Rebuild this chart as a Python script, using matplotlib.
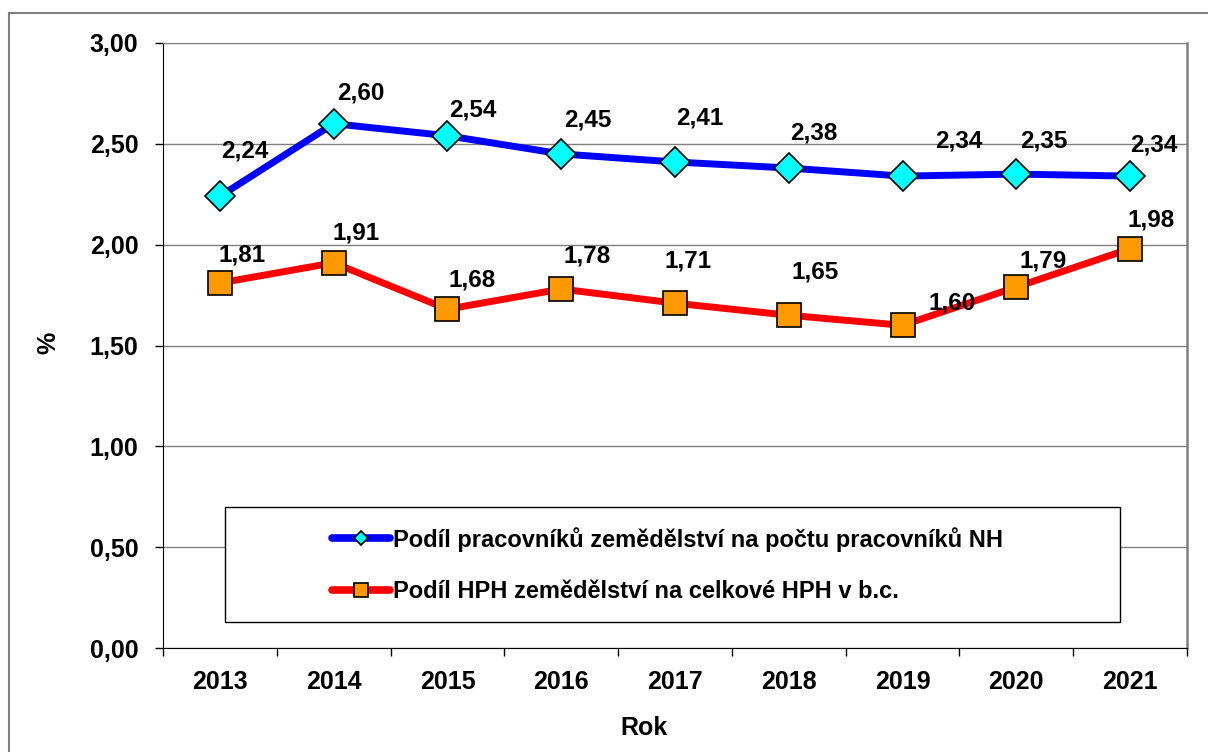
import numpy as np
import matplotlib
matplotlib.use("Agg")
import matplotlib.pyplot as plt
from matplotlib.patches import Rectangle
from matplotlib.lines import Line2D

plt.rcParams['font.family'] = ['Liberation Sans', 'DejaVu Sans']
plt.rcParams['font.weight'] = 'bold'

years = ['2013', '2014', '2015', '2016', '2017', '2018', '2019', '2020', '2021']
workers = [2.24, 2.60, 2.54, 2.45, 2.41, 2.38, 2.34, 2.35, 2.34]
gva = [1.81, 1.91, 1.68, 1.78, 1.71, 1.65, 1.60, 1.79, 1.98]
name_workers = 'Podíl pracovníků zemědělství na počtu pracovníků NH'
name_gva = 'Podíl HPH zemědělství na celkové HPH v b.c.'

# label offsets in pixels (dx, dy up) as placed in the original
off_workers = [(25, 45), (27, 31), (25, 26), (27, 34), (25, 44), (25, 35), (56, 35), (27, 33), (24, 31)]
off_gva = [(22, 28), (22, 30), (25, 29), (26, 33), (13, 42), (26, 43), (50, 22), (27, 26), (21, 29)]

W, H = 1208, 752
fig = plt.figure(figsize=(W / 100, H / 100), dpi=100)
ax = fig.add_axes([163 / W, 1 - 648 / H, 1024 / W, 605 / H])

x = np.arange(len(years))
ax.plot(x, workers, color='#0000FF', lw=5, marker='D', ms=15.5, mfc='#00FFFF',
        mec='black', mew=1.2, zorder=3)
ax.plot(x, gva, color='#FF0000', lw=5, marker='s', ms=17, mfc='#FF9900',
        mec='black', mew=1.2, zorder=3)

for xi, v, (dx, dy) in zip(x, workers, off_workers):
    ax.annotate(f'{v:.2f}'.replace('.', ','), (xi, v), xytext=(dx * 0.72, dy * 0.72),
                textcoords='offset points', ha='center', va='center', fontsize=17.5,
                fontweight='bold', zorder=4)
for xi, v, (dx, dy) in zip(x, gva, off_gva):
    ax.annotate(f'{v:.2f}'.replace('.', ','), (xi, v), xytext=(dx * 0.72, dy * 0.72),
                textcoords='offset points', ha='center', va='center', fontsize=17.5,
                fontweight='bold', zorder=4)

ax.set_xlim(-0.5, len(years) - 0.5)
ax.set_ylim(0, 3)
yt = np.arange(0, 3.01, 0.5)
ax.set_yticks(yt)
ax.set_yticklabels([f'{t:.2f}'.replace('.', ',') for t in yt], fontsize=18, fontweight='bold')
ax.set_xticks(np.arange(-0.5, len(years), 1.0))
ax.set_xticklabels([])
ax.set_xticks(x, minor=True)
ax.set_xticklabels(years, minor=True, fontsize=18, fontweight='bold')
ax.tick_params(axis='y', direction='out', length=5.8, width=1, pad=12)
ax.tick_params(axis='x', which='major', direction='out', length=5.8, width=1)
ax.tick_params(axis='x', which='minor', length=0, pad=16)

ax.grid(axis='y', color='#808080', lw=1)
ax.set_axisbelow(True)
ax.spines['left'].set_color('black')
ax.spines['bottom'].set_color('black')
ax.spines['top'].set_color('#808080')
ax.spines['right'].set_color('#808080')
ax.spines['right'].set_linewidth(1.8)

# legend box
ax.add_patch(Rectangle((62 / 1024, 26 / 605), 895 / 1024, 115 / 605, transform=ax.transAxes,
                       facecolor='white', edgecolor='black', lw=1, zorder=1))
handles = [
    Line2D([], [], color='#0000FF', lw=5.5, solid_capstyle='round', marker='D', ms=7,
           mfc='#00FFFF', mec='black', mew=1.2),
    Line2D([], [], color='#FF0000', lw=5.5, solid_capstyle='round', marker='s', ms=10,
           mfc='#FF9900', mec='black', mew=1.2),
]
ax.legend(handles, [name_workers, name_gva], loc='center left',
          bbox_to_anchor=(169 / 1024, 83 / 605), frameon=False, borderpad=0,
          borderaxespad=0, handlelength=2.45, handletextpad=0.15, labelspacing=1.2,
          prop={'weight': 'bold', 'size': 17})

fig.text(644 / W, 1 - 728 / H, 'Rok', ha='center', va='center', fontsize=18, fontweight='bold')
fig.text(48 / W, 1 - 343 / H, '%', ha='center', va='center', rotation=90, fontsize=18,
         fontweight='bold')

# outer chart frame
fig.add_artist(Rectangle((9 / W, -0.1), 1.2, 1 - 13 / H + 0.1, transform=fig.transFigure,
                         fill=False, edgecolor='#808080', lw=1.5))

fig.savefig('out.png', dpi=100)
